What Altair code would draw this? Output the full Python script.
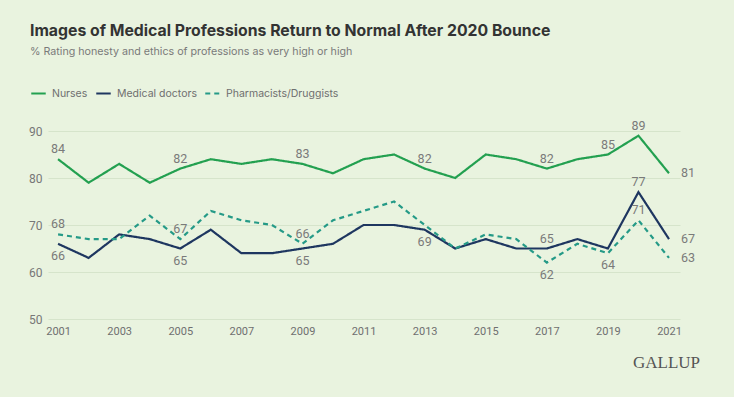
import altair as alt
import pandas as pd

years = list(range(2001, 2022))
nurses = [84, 79, 83, 79, 82, 84, 83, 84, 83, 81, 84, 85, 82, 80, 85, 84, 82, 84, 85, 89, 81]
doctors = [66, 63, 68, 67, 65, 69, 64, 64, 65, 66, 70, 70, 69, 65, 67, 65, 65, 67, 65, 77, 67]
pharm = [68, 67, 67, 72, 67, 73, 71, 70, 66, 71, 73, 75, 70, 65, 68, 67, 62, 66, 64, 71, 63]
series = ["Nurses", "Medical doctors", "Pharmacists/Druggists"]
colors = ["#23a050", "#1e3660", "#259a87"]

# labelled points: (series, year, position)
label_points = [
    ("Nurses", 2001, "above"), ("Nurses", 2005, "above"), ("Nurses", 2009, "above"),
    ("Nurses", 2013, "above"), ("Nurses", 2017, "above"), ("Nurses", 2019, "above"),
    ("Nurses", 2020, "above"), ("Nurses", 2021, "right"),
    ("Medical doctors", 2001, "below"), ("Medical doctors", 2005, "below"),
    ("Medical doctors", 2009, "below"), ("Medical doctors", 2013, "below"),
    ("Medical doctors", 2017, "above"), ("Medical doctors", 2020, "above"),
    ("Medical doctors", 2021, "right"),
    ("Pharmacists/Druggists", 2001, "above"), ("Pharmacists/Druggists", 2005, "above"),
    ("Pharmacists/Druggists", 2009, "above"), ("Pharmacists/Druggists", 2017, "below"),
    ("Pharmacists/Druggists", 2019, "below"), ("Pharmacists/Druggists", 2020, "above"),
    ("Pharmacists/Druggists", 2021, "right"),
]

vals = {"Nurses": nurses, "Medical doctors": doctors, "Pharmacists/Druggists": pharm}
rows = []
for s in series:
    for y, v in zip(years, vals[s]):
        rows.append({"series": s, "year": y, "value": v})
df = pd.DataFrame(rows)

lab_rows = []
for s, y, pos in label_points:
    lab_rows.append({"series": s, "year": y, "value": vals[s][years.index(y)], "pos": pos})
ldf = pd.DataFrame(lab_rows)

BG = "#e9f3df"
FONT = "Inter"
x_enc = alt.X("year:Q", scale=alt.Scale(domain=[2000.67, 2021.36], nice=False, zero=False),
              axis=alt.Axis(values=list(range(2001, 2022, 2)), format="d", grid=False,
                            domain=False, ticks=False, labelPadding=6, labelFontSize=11,
                            labelColor="#6f6f6f", labelFont="Roboto", title=None))
y_enc = alt.Y("value:Q", scale=alt.Scale(domain=[50, 90], nice=False, zero=False),
              axis=alt.Axis(values=[50, 60, 70, 80, 90], grid=True, gridColor="#d6e4cb",
                            gridWidth=1.2, domain=False, ticks=False, labelPadding=6,
                            labelFontSize=12, labelColor="#777777", labelFont="Roboto",
                            title=None))

leg = dict(orient="none", legendX=-18, legendY=-46, direction="horizontal", title=None,
           symbolType="stroke", symbolStrokeWidth=2.2, symbolSize=210, labelFontSize=10.5,
           labelColor="#6f6f6f", labelFont=FONT, columnPadding=3, labelOffset=5)

lines = alt.Chart(df).mark_line(strokeWidth=2.2).encode(
    x=x_enc,
    y=y_enc,
    color=alt.Color("series:N", scale=alt.Scale(domain=series, range=colors),
                    legend=alt.Legend(**leg)),
    strokeDash=alt.StrokeDash("series:N",
                              scale=alt.Scale(domain=series, range=[[1, 0], [1, 0], [5, 4]]),
                              legend=alt.Legend(**leg)),
    order="year:Q",
)

txt_style = dict(fontSize=12.5, color="#7a7a7a", font="Roboto")
above = alt.Chart(ldf).transform_filter(alt.datum.pos == "above").mark_text(
    dy=-10, **txt_style).encode(x="year:Q", y="value:Q", text="value:Q")
below = alt.Chart(ldf).transform_filter(alt.datum.pos == "below").mark_text(
    dy=12, **txt_style).encode(x="year:Q", y="value:Q", text="value:Q")
right = alt.Chart(ldf).transform_filter(alt.datum.pos == "right").mark_text(
    dx=12, align="left", **txt_style).encode(x="year:Q", y="value:Q", text="value:Q")

logo = alt.Chart(pd.DataFrame({"t": ["GALLUP"]})).mark_text(
    font="Liberation Serif", fontSize=17, color="#555555", align="right", baseline="middle"
).encode(text="t:N", x=alt.value(652), y=alt.value(232))

chart = alt.layer(lines, above, below, right, logo).properties(
    width=632, height=188,
    background=BG,
    padding={"left": 40, "top": 123, "right": 46, "bottom": 70},
    autosize=alt.AutoSizeParams(type="none"),
    title=alt.TitleParams(
        "Images of Medical Professions Return to Normal After 2020 Bounce",
        subtitle="% Rating honesty and ethics of professions as very high or high",
        anchor="start", frame="group", dx=-18, offset=27,
        font=FONT, fontSize=15.8, fontWeight="bold", color="#333333",
        subtitleFont=FONT, subtitleFontSize=10.7, subtitleColor="#7a7a7a",
        subtitlePadding=8,
    ),
).configure_view(stroke=None)

chart.save("out.html", embed_options={"renderer": "svg", "actions": False})

# page background matches chart background
with open("out.html", encoding="utf-8") as f:
    html = f.read()
html = html.replace("</head>", "<style>body{background:%s;}</style></head>" % BG, 1)
with open("out.html", "w", encoding="utf-8") as f:
    f.write(html)
